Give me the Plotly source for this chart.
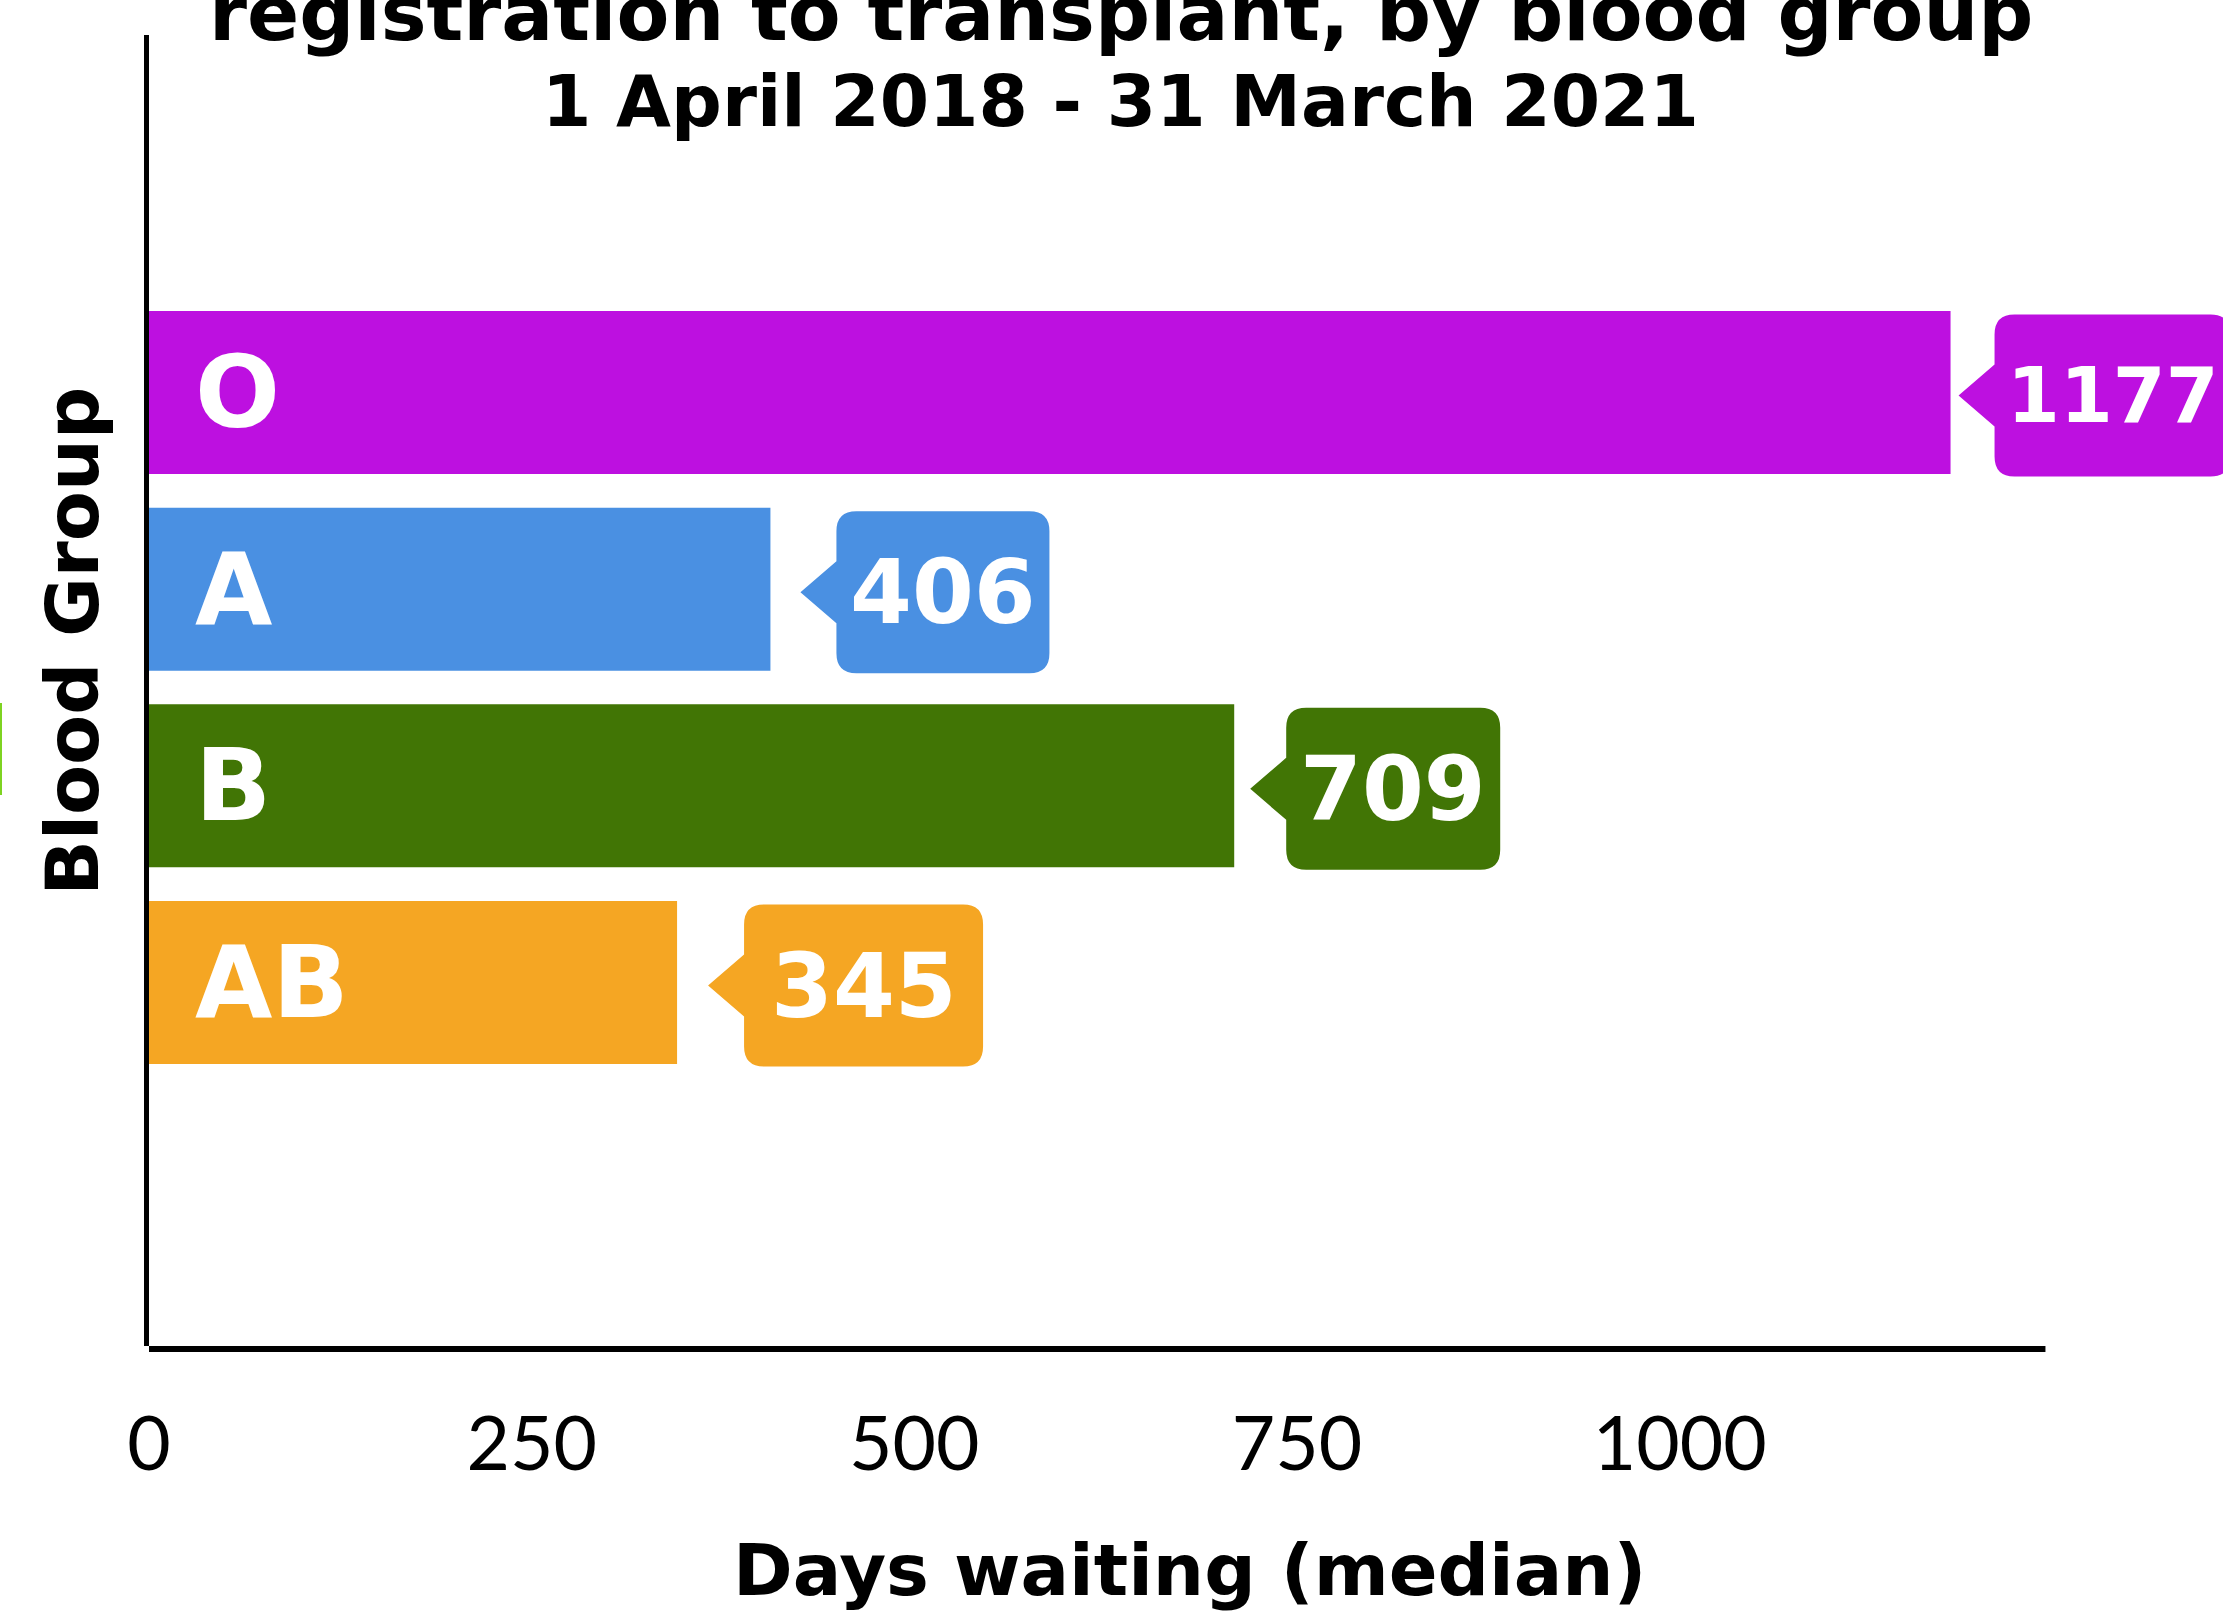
import plotly.graph_objects as go

# ---- data ----
categories = ["O", "A", "B", "AB"]
median_days = [1177, 406, 709, 345]
bar_colors = ["#BD10E0", "#4A90E2", "#417505", "#F5A623"]
tick_values = [0, 250, 500, 750, 1000]
tick_labels = ["0", "250", "500", "750", "1000"]
title_line1 = "registration to transplant, by blood group"
title_line2 = "1 April 2018 - 31 March 2021"
x_title = "Days waiting (median)"
y_title = "Blood Group"
x_axis_end = 1239      # where the drawn x-axis line stops (days)
x_view_max = 1355      # visible extent of the x scale (days)

# ---- style / layout ----
W, H = 2223, 1616
ML, MR, MT, MB = 149, 0, 35, 270
PW, PH = W - ML - MR, H - MT - MB
callout_gap_px = [8, 30, 16, 31]
callout_w_px = [236, 213, 214, 239]
value_font_px = [76, 89, 89, 89]
POINT = 36
HALF_BASE = 31
HALF_H = 81
R = 20
BOLD = "DejaVu Sans"


def px(p):
    return (p - ML) / PW


def py(p):
    return (H - MB - p) / PH


ypos = list(range(len(categories)))

fig = go.Figure()
fig.add_trace(go.Bar(
    x=median_days, y=ypos, orientation="h",
    marker=dict(color=bar_colors, line=dict(width=0)),
    width=0.829, hoverinfo="skip", showlegend=False,
))

shapes = []
annotations = []
for i, (cat, val, col) in enumerate(zip(categories, median_days, bar_colors)):
    g = callout_gap_px[i]
    bw = callout_w_px[i]
    x0 = g + POINT
    x1 = x0 + bw
    dy = -3
    top = HALF_H + dy
    bot = -HALF_H + dy
    path = (
        f"M {g},{dy} L {x0},{HALF_BASE + dy} L {x0},{top - R} "
        f"Q {x0},{top} {x0 + R},{top} L {x1 - R},{top} Q {x1},{top} {x1},{top - R} "
        f"L {x1},{bot + R} Q {x1},{bot} {x1 - R},{bot} L {x0 + R},{bot} "
        f"Q {x0},{bot} {x0},{bot + R} L {x0},{-HALF_BASE + dy} Z"
    )
    shapes.append(dict(
        type="path", xref="x", yref="y",
        xsizemode="pixel", ysizemode="pixel",
        xanchor=val, yanchor=i, path=path,
        fillcolor=col, line=dict(width=0), layer="above",
    ))
    annotations.append(dict(
        x=val, y=i, xref="x", yref="y", text=str(val), showarrow=False,
        xanchor="center", yanchor="middle",
        xshift=x0 + bw / 2, yshift=dy,
        font=dict(family=BOLD, size=value_font_px[i], color="white", weight="bold"),
    ))
    annotations.append(dict(
        x=0, y=i, xref="x", yref="y", text=cat, showarrow=False,
        xanchor="left", yanchor="middle", xshift=44,
        font=dict(family=BOLD, size=100, color="white", weight="bold"),
    ))

# x-axis baseline drawn to a fixed end value
shapes.append(dict(
    type="line", xref="x", yref="paper", x0=0, x1=x_axis_end,
    ysizemode="pixel", yanchor=0, y0=-3, y1=-3,
    line=dict(color="black", width=6), layer="above",
))
# thin green sliver at the left page edge
shapes.append(dict(
    type="line", xref="paper", yref="paper",
    x0=px(1), x1=px(1), y0=py(703), y1=py(795),
    line=dict(color="#7ED321", width=2), layer="above",
))

# titles
annotations.append(dict(
    x=px(1121), y=py(40 - 0.346 * 77), xref="paper", yref="paper",
    text=title_line1, showarrow=False, xanchor="center", yanchor="middle",
    font=dict(family=BOLD, size=77, color="black", weight="bold"),
))
annotations.append(dict(
    x=px(1120), y=py(126 - 0.346 * 71), xref="paper", yref="paper",
    text=title_line2, showarrow=False, xanchor="center", yanchor="middle",
    font=dict(family=BOLD, size=71, color="black", weight="bold"),
))
annotations.append(dict(
    x=px(1189), y=py(1595 - 0.346 * 72), xref="paper", yref="paper",
    text=x_title, showarrow=False, xanchor="center", yanchor="middle",
    font=dict(family=BOLD, size=72, color="black", weight="bold"),
))
annotations.append(dict(
    x=px(98 - 0.346 * 73), y=py(641), xref="paper", yref="paper",
    text=y_title, showarrow=False, xanchor="center", yanchor="middle",
    textangle=-90,
    font=dict(family=BOLD, size=73, color="black", weight="bold"),
))

fig.update_layout(
    width=W, height=H,
    margin=dict(l=ML, r=MR, t=MT, b=MB, pad=0),
    paper_bgcolor="white", plot_bgcolor="white",
    shapes=shapes, annotations=annotations,
    showlegend=False,
    xaxis=dict(
        range=[0, x_view_max], tickvals=tick_values, ticktext=tick_labels,
        showgrid=False, zeroline=False, showline=False,
        ticks="", ticklabelstandoff=48,
        tickfont=dict(family="Lato", size=75, color="black"),
        fixedrange=True,
    ),
    yaxis=dict(
        range=[4.848, -1.8175], showgrid=False, zeroline=False,
        showline=True, linecolor="black", linewidth=5,
        showticklabels=False, ticks="", fixedrange=True,
    ),
)

fig.write_html("out.html")
